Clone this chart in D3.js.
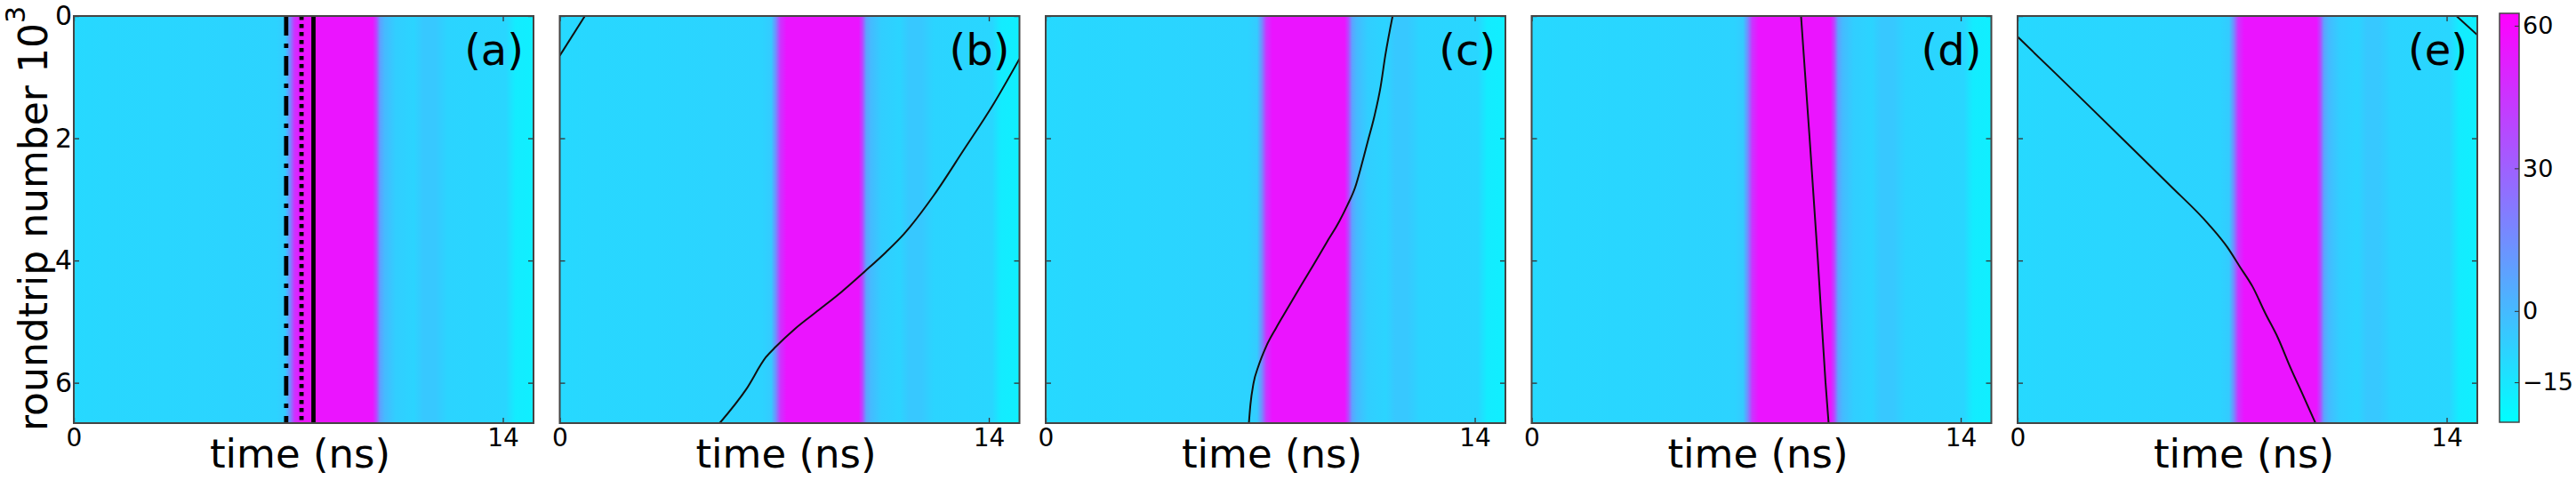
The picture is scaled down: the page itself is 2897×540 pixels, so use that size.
<!DOCTYPE html>
<meta charset="utf-8">
<script src="https://d3js.org/d3.v7.min.js"></script>
<style>
body { margin: 0; background: #fff; }
text { font-family: "DejaVu Sans", sans-serif; }
</style>
<div id="chart"></div>
<script>

// ---- data ----
var panelNames = ["(a)", "(b)", "(c)", "(d)", "(e)"];
var timeTicks = [0, 14];
var roundTicks = [0, 2, 4, 6];
var cbarTicks = [60, 30, 0, -15];

// colour scale limits (colorbar)
var cmin = -23.4, cmax = 62.6;

// intensity profile across time (the same in every panel, no change along roundtrips)
var profileTime  = [0, 1, 3, 5, 6.6, 6.9, 7.05, 7.2, 7.4, 9.75, 9.87, 10.0, 10.15, 10.5, 11.1, 11.4, 11.8, 12.2, 14.1, 14.4, 15];
var profileValue = [-10.5, -10, -9.5, -9, -8.5, -6, 15, 45, 56, 56, 40, 8, 0, -7, -9, -5, -5, -9, -9.5, -17, -18];

// panel (a): three vertical markers (ns)
var markTimes = [6.93, 7.43, 7.82];

// panel (b)
var bWrapT = [0, 0.82];
var bWrapR = [0.65, 0];
var bMainT = [5.22, 6.08, 6.73, 7.05, 7.69, 8.45, 9.20, 9.95, 10.65, 11.24, 12.21, 13.17, 14.14, 15.0];
var bMainR = [6.66, 6.11, 5.58, 5.41, 5.11, 4.81, 4.51, 4.18, 3.86, 3.56, 2.93, 2.20, 1.45, 0.70];

// panel (c)
var cMainT = [6.63, 6.68, 6.78, 6.94, 7.19, 7.51, 7.92, 8.33, 8.75, 9.16, 9.58, 9.84, 10.10, 10.30, 10.51, 10.72, 10.93, 11.08, 11.32];
var cMainR = [6.66, 6.36, 6.01, 5.73, 5.41, 5.11, 4.76, 4.41, 4.06, 3.71, 3.36, 3.10, 2.80, 2.45, 2.05, 1.65, 1.15, 0.65, 0];

// panel (d)
var dMainT = [8.79, 9.07, 9.34, 9.59, 9.69];
var dMainR = [0, 2, 4, 6, 6.66];

// panel (e)
var eMainT = [0, 1.24, 2.49, 3.73, 4.97, 6.22, 6.84, 7.25, 7.67, 8.08, 8.49, 8.91, 9.32, 9.72];
var eMainR = [0.34, 0.94, 1.55, 2.16, 2.77, 3.40, 3.78, 4.10, 4.43, 4.86, 5.26, 5.76, 6.21, 6.66];
var eWrapT = [14.32, 15];
var eWrapR = [0, 0.31];

var tracks = [
  [],
  [[bWrapT, bWrapR], [bMainT, bMainR]],
  [[cMainT, cMainR]],
  [[dMainT, dMainR]],
  [[eMainT, eMainR], [eWrapT, eWrapR]]
];

// ---- layout ----
var W = 2897, H = 540;
var left0 = 83, step = 546.5, pw = 517;
var plotTop = 18, plotBottom = 476;
var ph = plotBottom - plotTop;

var svg = d3.select("#chart").append("svg")
  .attr("width", W)
  .attr("height", H);

var defs = svg.append("defs");

var x = d3.scaleLinear().domain([0, 15]).range([0, pw]);
var y = d3.scaleLinear().domain([0, 6.66]).range([0, ph]);
var color = d3.scaleSequential([cmin, cmax], d3.interpolateRgb("#00ffff", "#ff00ff"));

// horizontal gradient for the heat map
var grad = defs.append("linearGradient")
  .attr("id", "profile")
  .attr("x1", "0%").attr("x2", "100%")
  .attr("y1", "0%").attr("y2", "0%");
grad.selectAll("stop")
  .data(profileTime)
  .enter().append("stop")
    .attr("offset", function(d) { return (x(d) / pw * 100) + "%"; })
    .attr("stop-color", function(d, i) { return color(profileValue[i]); });

defs.append("clipPath").attr("id", "clip")
  .append("rect").attr("width", pw).attr("height", ph);

var line = d3.line()
  .x(function(d) { return x(d[0]); })
  .y(function(d) { return y(d[1]); })
  .curve(d3.curveMonotoneX);

panelNames.forEach(function(name, p) {
  var g = svg.append("g")
    .attr("transform", "translate(" + (left0 + p * step) + "," + plotTop + ")");

  g.append("rect")
    .attr("x", x(0)).attr("y", y(0))
    .attr("width", x(15) - x(0))
    .attr("height", y(6.66) - y(0))
    .attr("fill", "url(#profile)");

  var lines = g.append("g").attr("clip-path", "url(#clip)");

  if (p == 0) {
    var dashes = ["22,9,5,9", "4.5,4.5", null];
    markTimes.forEach(function(t, i) {
      lines.append("line")
        .attr("x1", x(t)).attr("x2", x(t))
        .attr("y1", y(0)).attr("y2", y(6.66))
        .attr("stroke", "#000")
        .attr("stroke-width", 4.8)
        .attr("stroke-dasharray", dashes[i]);
    });
  }

  tracks[p].forEach(function(tr) {
    lines.append("path")
      .datum(tr[0].map(function(t, i) { return [t, tr[1][i]]; }))
      .attr("d", line)
      .attr("fill", "none")
      .attr("stroke", "#111")
      .attr("stroke-width", 2);
  });

  // ticks on all four sides, pointing inwards
  var yl = g.append("g")
    .call(d3.axisLeft(y).tickValues(roundTicks).tickSizeInner(-6).tickSizeOuter(0).tickPadding(2)
      .tickFormat(p == 0 ? d3.format("d") : function() { return ""; }));
  var yr = g.append("g").attr("transform", "translate(" + pw + ",0)")
    .call(d3.axisRight(y).tickValues(roundTicks).tickSizeInner(-6).tickSizeOuter(0).tickFormat(""));
  var xb = g.append("g").attr("transform", "translate(0," + ph + ")")
    .call(d3.axisBottom(x).tickValues(timeTicks).tickSizeInner(-6).tickSizeOuter(0).tickPadding(6)
      .tickFormat(d3.format("d")));
  var xt = g.append("g")
    .call(d3.axisTop(x).tickValues(timeTicks).tickSizeInner(-6).tickSizeOuter(0).tickFormat(""));

  [yl, yr, xb, xt].forEach(function(a) {
    a.select(".domain").remove();
    a.selectAll("line").attr("stroke", "#333").attr("stroke-width", 1.3);
    a.selectAll("text").attr("fill", "#000");
  });
  yl.selectAll("text").style("font-size", "30px");
  xb.selectAll("text").style("font-size", "28px");

  g.append("rect")
    .attr("width", pw).attr("height", ph)
    .attr("fill", "none")
    .attr("stroke", "#444")
    .attr("stroke-width", 2);

  g.append("text")
    .attr("x", pw - 11)
    .attr("y", 55)
    .attr("text-anchor", "end")
    .style("font-size", "48px")
    .text(name);

  g.append("text")
    .attr("x", pw / 2 - 4)
    .attr("y", 526 - plotTop)
    .attr("text-anchor", "middle")
    .style("font-size", "45px")
    .text("time (ns)");
});

// y label
var yt = svg.append("text")
  .attr("transform", "translate(53," + 246 + ") rotate(-90)")
  .attr("text-anchor", "middle")
  .style("font-size", "44px");
yt.append("tspan").text("roundtrip number 10");
yt.append("tspan").attr("dy", -25).style("font-size", "30px").text("3");

// colorbar
var cbX = 2811, cbW = 22, cbTop = 15, cbBottom = 475;
var cb = d3.scaleLinear().domain([cmin, cmax]).range([cbBottom, cbTop]);

var cgrad = defs.append("linearGradient")
  .attr("id", "cbar")
  .attr("x1", "0%").attr("x2", "0%")
  .attr("y1", "100%").attr("y2", "0%");
cgrad.selectAll("stop")
  .data([cmin, cmax])
  .enter().append("stop")
    .attr("offset", function(d) { return ((cbBottom - cb(d)) / (cbBottom - cbTop) * 100) + "%"; })
    .attr("stop-color", function(d) { return color(d); });

svg.append("rect")
  .attr("x", cbX).attr("y", cbTop)
  .attr("width", cbW).attr("height", cbBottom - cbTop)
  .attr("fill", "url(#cbar)")
  .attr("stroke", "#444")
  .attr("stroke-width", 1.5);

var ca = svg.append("g")
  .attr("transform", "translate(" + (cbX + cbW) + ",0)")
  .call(d3.axisRight(cb).tickValues(cbarTicks).tickSizeInner(-5).tickSizeOuter(0).tickPadding(4));
ca.select(".domain").remove();
ca.selectAll("line").attr("stroke", "#333");
ca.selectAll("text").style("font-size", "27px").attr("fill", "#000");

</script>
